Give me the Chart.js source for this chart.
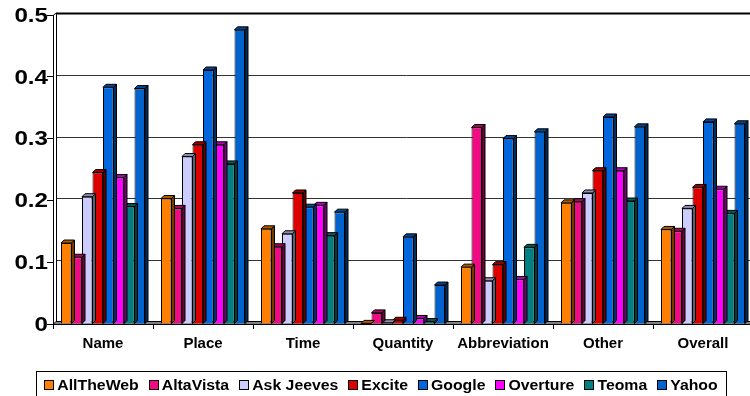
<!DOCTYPE html>
<html>
<head>
<meta charset="utf-8">
<script src="https://cdn.jsdelivr.net/npm/chart.js@4/dist/chart.umd.min.js"></script>
<style>
html,body{margin:0;padding:0;background:#fff;overflow:hidden;width:750px;height:396px;}
#wrap{width:756px;height:396px;}
</style>
</head>
<body>
<div id="wrap"><canvas id="c" width="756" height="396"></canvas></div>
<script>
const categories = ['Name','Place','Time','Quantity','Abbreviation','Other','Overall'];
const seriesNames = ['AllTheWeb','AltaVista','Ask Jeeves','Excite','Google','Overture','Teoma','Yahoo'];
const allTheWeb = [0.131,0.203,0.154,0.001,0.092,0.196,0.153];
const altaVista = [0.108,0.187,0.125,0.018,0.318,0.198,0.150];
const askJeeves = [0.206,0.271,0.146,0.002,0.070,0.212,0.187];
const excite    = [0.245,0.290,0.212,0.006,0.096,0.248,0.221];
const google    = [0.383,0.411,0.189,0.141,0.300,0.335,0.327];
const overture  = [0.237,0.290,0.192,0.009,0.072,0.248,0.218];
const teoma     = [0.190,0.259,0.143,0.004,0.124,0.199,0.179];
const yahoo     = [0.381,0.476,0.181,0.063,0.311,0.319,0.324];
const yTickLabels = ['0','0.1','0.2','0.3','0.4','0.5'];

const seriesValues = [allTheWeb, altaVista, askJeeves, excite, google, overture, teoma, yahoo];
const colors = ['#FF8000','#F00A84','#CCCCFF','#DD0000','#0066DD','#FF00FF','#008080','#0062CC'];

function shade(hex, f){
  const n = parseInt(hex.slice(1),16);
  const r = Math.round(((n>>16)&255)*f), g = Math.round(((n>>8)&255)*f), b = Math.round((n&255)*f);
  return 'rgb('+r+','+g+','+b+')';
}
const D = 3;
const FONT = '"Liberation Sans", Arial, sans-serif';

function stretchText(ctx, text, x, y, sx, align){
  ctx.save();
  ctx.translate(x, y);
  ctx.scale(sx, 1);
  ctx.textAlign = align;
  ctx.fillText(text, 0, 0);
  ctx.restore();
}

const wallPlugin = {
  id:'wall',
  beforeDatasetsDraw(chart){
    const ctx = chart.ctx, a = chart.chartArea, ys = chart.scales.y;
    ctx.save();
    for (let i=1;i<yTickLabels.length;i++){
      const py = Math.round(ys.getPixelForValue(i/10)) - 2 + 0.5;
      ctx.beginPath();
      ctx.moveTo(a.left+D, py); ctx.lineTo(a.right+5, py);
      ctx.lineWidth = (i===yTickLabels.length-1) ? 2 : 1;
      ctx.strokeStyle = (i===yTickLabels.length-1) ? '#000' : '#333';
      ctx.stroke();
    }
    const top = Math.round(ys.getPixelForValue(0.5));
    ctx.beginPath();
    ctx.moveTo(a.left+D+0.5, top-2); ctx.lineTo(a.left+D+0.5, a.bottom-D);
    ctx.moveTo(a.left+0.5, top); ctx.lineTo(a.left+D+0.5, top-2);
    ctx.lineWidth=1; ctx.strokeStyle='#000'; ctx.stroke();
    ctx.beginPath();
    ctx.moveTo(a.left, a.bottom+0.5);
    ctx.lineTo(a.left+D, a.bottom-D+0.5);
    ctx.lineTo(a.right+5, a.bottom-D+0.5);
    ctx.lineTo(a.right+5, a.bottom+0.5);
    ctx.closePath();
    ctx.fillStyle='#808080'; ctx.fill();
    ctx.strokeStyle='#000'; ctx.stroke();
    ctx.restore();
  },
  afterDatasetDraw(chart, args){
    const ctx = chart.ctx;
    const meta = args.meta;
    const col = colors[args.index];
    ctx.save();
    ctx.lineWidth = 1; ctx.strokeStyle = '#000'; ctx.lineJoin='round';
    meta.data.forEach(el=>{
      const p = el.getProps(['x','y','base','width'], true);
      const l = p.x - p.width/2, r = p.x + p.width/2, t = p.y, b = p.base;
      ctx.beginPath();
      ctx.moveTo(r, t); ctx.lineTo(r+D, t-D); ctx.lineTo(r+D, b-D); ctx.lineTo(r, b); ctx.closePath();
      ctx.fillStyle = shade(col, 0.45); ctx.fill(); ctx.stroke();
      ctx.beginPath();
      ctx.moveTo(l, t); ctx.lineTo(l+D, t-D); ctx.lineTo(r+D, t-D); ctx.lineTo(r, t); ctx.closePath();
      ctx.fillStyle = shade(col, 0.7); ctx.fill(); ctx.stroke();
    });
    ctx.restore();
  },
  afterDraw(chart){
    const ctx = chart.ctx, ys = chart.scales.y;
    ctx.save();
    ctx.font = 'bold 21px ' + FONT;
    ctx.fillStyle = '#000';
    ctx.textBaseline = 'middle';
    yTickLabels.forEach((t,i)=>{
      stretchText(ctx, t, 48, ys.getPixelForValue(i/10)+1, 1.15, 'right');
    });
    const sx = 1.13;
    ctx.font = 'bold 14px ' + FONT;
    const box = 9, gapIn = 4, gapOut = 10;
    const widths = seriesNames.map(s=>ctx.measureText(s).width*sx);
    let total = widths.reduce((s,w)=>s+w+box+gapIn,0) + gapOut*(seriesNames.length-1);
    const cx = 381;
    ctx.lineWidth = 1; ctx.strokeStyle='#000';
    ctx.strokeRect(36.5, 371.5, 690, 26);
    let x = cx - total/2;
    const yMid = 385;
    seriesNames.forEach((s,i)=>{
      ctx.fillStyle = colors[i];
      ctx.fillRect(Math.round(x)+0.5, 380.5, box, box);
      ctx.strokeRect(Math.round(x)+0.5, 380.5, box, box);
      ctx.fillStyle='#000';
      stretchText(ctx, s, x+box+gapIn, yMid+1, sx, 'left');
      x += box+gapIn+widths[i]+gapOut;
    });
    ctx.restore();
  }
};

new Chart(document.getElementById('c'), {
  type:'bar',
  data:{
    labels: categories,
    datasets: seriesNames.map((n,i)=>({
      label:n, data:seriesValues[i], backgroundColor:colors[i],
      borderColor:'#000', borderWidth:1,
      categoryPercentage:0.84, barPercentage:1.0
    }))
  },
  options:{
    responsive:false, animation:false, devicePixelRatio:1,
    layout:{padding:{top:15, right:3, bottom:42, left:0}},
    plugins:{legend:{display:false}, tooltip:{enabled:false}},
    scales:{
      x:{
        grid:{display:true, drawOnChartArea:false, drawTicks:true, tickLength:5, color:'#000', offset:true},
        border:{display:true, color:'#000'},
        ticks:{font:{family:FONT, size:15, weight:'bold'}, color:'#000', padding:6, maxRotation:0, autoSkip:false},
        afterFit(s){ s.height = 30; }
      },
      y:{
        min:0, max:0.5,
        ticks:{stepSize:0.1, font:{family:FONT, size:20, weight:'bold'}, color:'rgba(0,0,0,0)', padding:1,
          callback:(v,i)=>yTickLabels[i]},
        grid:{display:true, drawOnChartArea:false, drawTicks:true, tickLength:6, color:'#000'},
        border:{display:true, color:'#000'},
        afterFit(s){ s.width = 53; }
      }
    }
  },
  plugins:[wallPlugin]
});
</script>
</body>
</html>
